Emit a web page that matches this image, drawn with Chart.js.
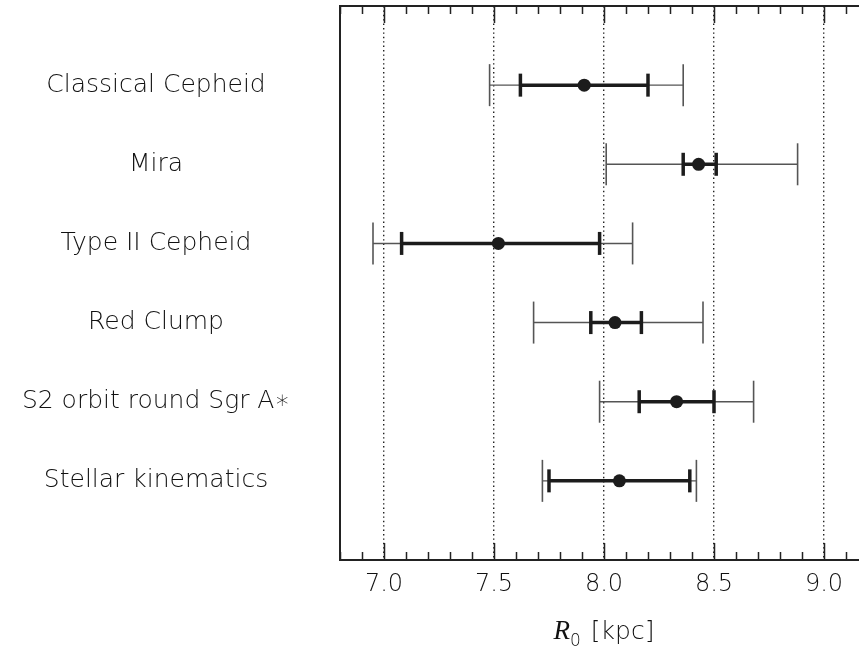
<!DOCTYPE html>
<html>
<head>
<meta charset="utf-8">
<script src="https://cdn.jsdelivr.net/npm/chart.js@4/dist/chart.umd.min.js"></script>
<style>
  html, body { margin: 0; padding: 0; background: #fff; overflow: hidden; }
  #wrap { width: 859px; height: 649px; overflow: hidden; }
</style>
</head>
<body>
<div id="wrap"><canvas id="myChart" width="870" height="649"></canvas></div>
<script>
// R0 estimates (kpc), one row per method
const categories = ['Classical Cepheid', 'Mira', 'Type II Cepheid', 'Red Clump', 'S2 orbit round Sgr A\u2217', 'Stellar kinematics'];
const r0Values  = [7.91, 8.43, 7.52, 8.05, 8.33, 8.07];
const innerLow  = [7.62, 8.36, 7.08, 7.94, 8.16, 7.75];
const innerHigh = [8.20, 8.51, 7.98, 8.17, 8.50, 8.39];
const outerLow  = [7.48, 8.01, 6.95, 7.68, 7.98, 7.72];
const outerHigh = [8.36, 8.88, 8.13, 8.45, 8.68, 8.42];

const xTickValues = [7.0, 7.5, 8.0, 8.5, 9.0];
const xTickLabels = ['7.0', '7.5', '8.0', '8.5', '9.0'];
const xMin = 6.8, xMax = 9.2, minorStep = 0.1;

const labelFont = { family: 'DejaVu Sans', size: 25, weight: 200 };
const textColor = '#111';
const ink = '#1c1c1c';

// padding so the row labels sit centred at x~156
const mctx = document.createElement('canvas').getContext('2d');
mctx.font = '200 ' + labelFont.size + 'px "' + labelFont.family + '"';
const widest = Math.max(...categories.map(c => mctx.measureText(c).width));
const yPad = Math.max(4, 340 - 156 - widest / 2);

const rowY = i => i + 1;

const outerSets = categories.map((c, i) => ({
  data: [{ x: outerLow[i], y: rowY(i) }, { x: outerHigh[i], y: rowY(i) }],
  showLine: true,
  borderColor: '#555',
  borderWidth: 1.4,
  pointStyle: 'line',
  rotation: 90,
  pointRadius: 21,
  pointBorderWidth: 1.6,
  pointBorderColor: '#555',
  order: 3
}));

const innerSets = categories.map((c, i) => ({
  data: [{ x: innerLow[i], y: rowY(i) }, { x: innerHigh[i], y: rowY(i) }],
  showLine: true,
  borderColor: ink,
  borderWidth: 3.5,
  pointStyle: 'line',
  rotation: 90,
  pointRadius: 11.5,
  pointBorderWidth: 3.5,
  pointBorderColor: ink,
  order: 2
}));

const pointSet = {
  data: r0Values.map((v, i) => ({ x: v, y: rowY(i) })),
  showLine: false,
  pointStyle: 'circle',
  pointRadius: 6.5,
  pointBackgroundColor: ink,
  pointBorderColor: ink,
  pointBorderWidth: 0,
  order: 1
};

const frameAndTicks = {
  id: 'frameAndTicks',
  afterDraw(chart) {
    const { ctx, chartArea: a, scales } = chart;
    const xs = scales.x;
    ctx.save();
    ctx.strokeStyle = '#222';
    ctx.lineWidth = 1.5;
    const n = Math.round((xMax - xMin) / minorStep);
    for (let k = 0; k <= n; k++) {
      const v = xMin + k * minorStep;
      const major = Math.abs(v * 2 - Math.round(v * 2)) < 1e-6;
      const len = major ? 17 : 8;
      const px = Math.round(xs.getPixelForValue(v)) + 0.5;
      ctx.beginPath();
      ctx.moveTo(px, a.bottom); ctx.lineTo(px, a.bottom - len);
      ctx.moveTo(px, a.top); ctx.lineTo(px, a.top + len);
      ctx.stroke();
    }
    ctx.lineWidth = 2;
    ctx.strokeRect(a.left, a.top, a.right - a.left, a.bottom - a.top);

    // axis title: italic R, subscript 0, then [kpc]
    const cx = xs.getPixelForValue(8.0);
    const base = 639;
    const fR = 'italic 27px "Liberation Serif"';
    const fSub = '200 17px "DejaVu Sans"';
    const fMain = '200 25px "DejaVu Sans"';
    ctx.fillStyle = textColor;
    ctx.textBaseline = 'alphabetic';
    ctx.textAlign = 'left';
    ctx.font = fR; const wR = ctx.measureText('R').width;
    ctx.font = fSub; const wS = ctx.measureText('0').width;
    ctx.font = fMain; const wM = ctx.measureText(' [kpc]').width;
    let x0 = cx - (wR + wS + 2 + wM) / 2;
    ctx.font = fR; ctx.fillText('R', x0, base);
    x0 += wR;
    ctx.font = fSub; ctx.fillText('0', x0, base + 7);
    x0 += wS + 2;
    ctx.font = fMain; ctx.fillText(' [kpc]', x0, base);
    ctx.restore();
  }
};

new Chart(document.getElementById('myChart').getContext('2d'), {
  type: 'scatter',
  data: { datasets: [pointSet, ...innerSets, ...outerSets] },
  options: {
    responsive: false,
    animation: false,
    events: [],
    layout: { autoPadding: false, padding: { top: 6, right: 2, left: 0, bottom: 0 } },
    plugins: { legend: { display: false }, tooltip: { enabled: false } },
    scales: {
      x: {
        type: 'linear',
        min: xMin,
        max: xMax,
        afterBuildTicks: s => { s.ticks = xTickValues.map(v => ({ value: v })); },
        afterFit: s => { s.height = 89; },
        ticks: {
          autoSkip: false,
          maxRotation: 0,
          padding: 10,
          color: textColor,
          font: { family: 'DejaVu Sans', size: 24, weight: 200 },
          callback: (v) => xTickLabels[xTickValues.indexOf(v)]
        },
        grid: {
          drawTicks: false,
          color: '#222',
          lineWidth: 1.4
        },
        border: { display: false, dash: [1.4, 3] }
      },
      y: {
        type: 'linear',
        min: 0,
        max: 7,
        reverse: true,
        afterBuildTicks: s => { s.ticks = categories.map((c, i) => ({ value: rowY(i) })); },
        afterFit: s => { s.width = 340; s.paddingTop = 0; s.paddingBottom = 0; },
        ticks: {
          crossAlign: 'center',
          padding: yPad,
          color: textColor,
          font: labelFont,
          callback: (v) => categories[v - 1]
        },
        grid: { display: false, drawTicks: false },
        border: { display: false }
      }
    }
  },
  plugins: [frameAndTicks]
});
</script>
</body>
</html>
